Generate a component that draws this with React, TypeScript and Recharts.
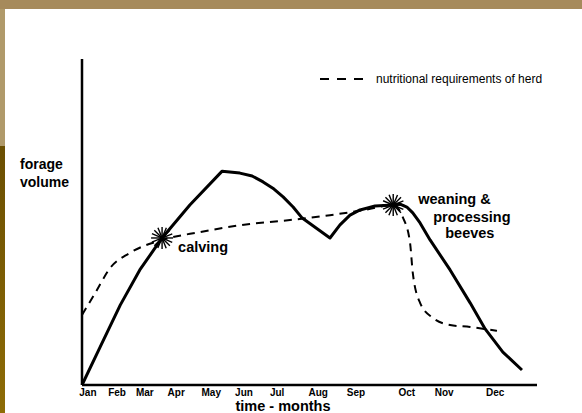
import { ComposedChart, Legend, Line, Scatter, XAxis, YAxis } from "recharts";

// month tick positions along the hand-drawn axis (0 = origin, 100 = end of axis)
const monthLabels = ["Jan", "Feb", "Mar", "Apr", "May", "Jun", "Jul", "Aug", "Sep", "Oct", "Nov", "Dec"];
const monthTicks = [1.3, 7.7, 13.8, 20.7, 28.4, 35.6, 42.9, 51.9, 60.2, 71.4, 79.6, 90.8];

// forage volume (solid curve)
const forageX = [0, 4.0, 8.4, 12.7, 17.6, 23.7, 30.8, 34.7, 37.4, 39.8, 42.2, 44.2, 46.4, 48.4, 54.5, 56.7, 58.9, 61.1, 64.4, 68.4, 69.9, 71.4, 72.7, 74.3, 76.5, 80.9, 85.3, 88.6, 92.5, 96.7];
const forageY = [0, 11.7, 24.5, 35.3, 45.1, 55.2, 65.6, 65.0, 64.1, 62.3, 60.1, 57.7, 54.6, 51.2, 45.1, 49.1, 52.1, 53.7, 54.9, 55.2, 55.5, 54.6, 52.8, 49.7, 44.5, 35.3, 25.2, 17.2, 10.1, 4.6];

// nutritional requirements of herd (dashed curve)
const needX = [0, 2.9, 6.2, 10.5, 17.6, 25.9, 36.9, 45.7, 54.5, 62.2, 68.4, 70.5, 72.1, 72.7, 74.3, 77.1, 80.9, 85.3, 91.2];
const needY = [21.5, 28.2, 35.9, 40.5, 44.5, 46.9, 49.4, 50.6, 52.1, 53.7, 55.2, 51.5, 43.6, 34.4, 25.2, 20.6, 18.4, 17.8, 16.6];

// events marked with a star
const eventX = [17.6, 68.4];
const eventY = [45.1, 55.2];
const eventText = [["calving"], ["weaning &", "processing", "beeves"]];

const forageData = forageX.map((x, i) => ({ x, y: forageY[i] }));
const needData = needX.map((x, i) => ({ x, y: needY[i] }));
const eventData = eventX.map((x, i) => ({ x, y: eventY[i], lines: eventText[i], idx: i }));

const labelOffsets = [
    [[16, 14]],
    [[25, -1], [40, 17], [52, 33]],
];

const boldFont = "'Liberation Sans', Arial, sans-serif";

const StarMark = (props: any) => {
    const { cx, cy, payload } = props;
    if (cx == null || cy == null) return null;
    const angles = [0, 23, 45, 68, 90, 113, 135, 158];
    const r = 11;
    const offs = labelOffsets[payload.idx];
    return (
        <g>
            {angles.map((a) => {
                const rad = (a * Math.PI) / 180;
                return (
                    <line
                        key={a}
                        x1={cx - r * Math.cos(rad)}
                        y1={cy - r * Math.sin(rad)}
                        x2={cx + r * Math.cos(rad)}
                        y2={cy + r * Math.sin(rad)}
                        stroke="#000"
                        strokeWidth={1.4}
                    />
                );
            })}
            {payload.lines.map((t: string, i: number) => (
                <text
                    key={t}
                    x={cx + offs[i][0]}
                    y={cy + offs[i][1]}
                    fontFamily={boldFont}
                    fontWeight="bold"
                    fontSize={14.5}
                    fill="#000"
                >
                    {t}
                </text>
            ))}
        </g>
    );
};

const LegendContent = (props: any) => {
    const entry = (props.payload || []).find((p: any) => p.value === "nutritional requirements of herd");
    if (!entry) return null;
    return (
        <div style={{ display: "flex", alignItems: "center", whiteSpace: "nowrap" }}>
            <svg width={54} height={10}>
                <line x1={2} y1={5} x2={52} y2={5} stroke="#000" strokeWidth={2} strokeDasharray="9 8" />
            </svg>
            <span style={{ fontFamily: boldFont, fontSize: 12, color: "#000", marginLeft: 4 }}>{entry.value}</span>
        </div>
    );
};

const App = () => {
    return (
        <div
            style={{
                position: "absolute",
                left: 0,
                top: 0,
                width: 582,
                height: 413,
                background: "#fff",
                overflow: "hidden",
            }}
        >
            <div style={{ position: "absolute", left: 0, top: 0, width: 582, height: 9, background: "#a68a5b" }} />
            <div style={{ position: "absolute", left: 0, top: 9, width: 5, height: 137, background: "#b09a6a" }} />
            <div
                style={{
                    position: "absolute",
                    left: 0,
                    top: 146,
                    width: 5,
                    height: 267,
                    background: "linear-gradient(#6b4f02, #8e6c06)",
                }}
            />
            <ComposedChart
                width={582}
                height={413}
                margin={{ top: 59, right: 45, bottom: 0, left: 78 }}
                style={{ position: "absolute", left: 0, top: 0 }}
            >
                <XAxis
                    dataKey="x"
                    type="number"
                    domain={[0, 100]}
                    ticks={monthTicks}
                    interval={0}
                    tickFormatter={(v: number) => monthLabels[monthTicks.indexOf(v)]}
                    tickLine={false}
                    tickSize={0}
                    tickMargin={4}
                    height={28}
                    tick={{ fill: "#000", fontSize: 10, fontFamily: boldFont, fontWeight: 600 }}
                    axisLine={{ stroke: "#000", strokeWidth: 2.5 }}
                    label={() => (
                        <text
                            x={283}
                            y={411}
                            textAnchor="middle"
                            fontFamily={boldFont}
                            fontWeight="bold"
                            fontSize={14.5}
                            fill="#000"
                        >
                            time - months
                        </text>
                    )}
                />
                <YAxis
                    type="number"
                    domain={[0, 100]}
                    tick={false}
                    tickLine={false}
                    width={4}
                    axisLine={{ stroke: "#000", strokeWidth: 2.5 }}
                    label={() => (
                        <text fontFamily={boldFont} fontWeight="bold" fontSize={14} fill="#000">
                            <tspan x={20} y={169}>forage</tspan>
                            <tspan x={20} y={187}>volume</tspan>
                        </text>
                    )}
                />
                <Legend
                    verticalAlign="middle"
                    align="center"
                    layout="horizontal"
                    content={<LegendContent />}
                    wrapperStyle={{ top: 72, left: 318, width: "auto" }}
                />
                <Line
                    data={needData}
                    dataKey="y"
                    name="nutritional requirements of herd"
                    type="monotone"
                    stroke="#000"
                    strokeWidth={2}
                    strokeDasharray="8 6"
                    dot={false}
                    activeDot={false}
                    isAnimationActive={false}
                />
                <Line
                    data={forageData}
                    dataKey="y"
                    name="forage volume"
                    type="linear"
                    stroke="#000"
                    strokeWidth={3}
                    strokeLinejoin="round"
                    dot={false}
                    activeDot={false}
                    legendType="none"
                    isAnimationActive={false}
                />
                <Scatter
                    data={eventData}
                    dataKey="y"
                    name="events"
                    legendType="none"
                    shape={<StarMark />}
                    isAnimationActive={false}
                />
            </ComposedChart>
        </div>
    );
};

export default App;
